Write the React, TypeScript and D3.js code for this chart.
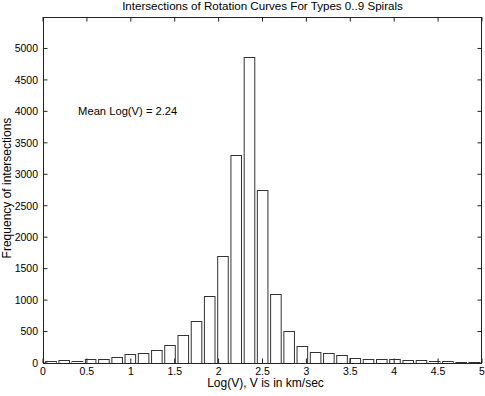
import React from "react";
import * as d3 from "d3";

const binCenters = [
  0.085, 0.236, 0.386, 0.537, 0.688, 0.839, 0.989, 1.14, 1.291, 1.441, 1.592,
  1.743, 1.893, 2.044, 2.195, 2.346, 2.496, 2.647, 2.798, 2.948, 3.099, 3.25,
  3.4, 3.551, 3.702, 3.853, 4.003, 4.154, 4.305, 4.455, 4.606, 4.757, 4.907,
];
const counts = [
  28, 48, 37, 69, 69, 96, 137, 160, 208, 292, 440, 665, 1062, 1705, 3300, 4870,
  2755, 1098, 515, 268, 180, 165, 122, 75, 64, 58, 59, 42, 42, 26, 26, 21, 10,
];
const xTicks = [0, 0.5, 1, 1.5, 2, 2.5, 3, 3.5, 4, 4.5, 5];
const yTicks = [0, 500, 1000, 1500, 2000, 2500, 3000, 3500, 4000, 4500, 5000];
const binWidth = 0.1507;
const barFrac = 0.8;

const title = "Intersections of Rotation Curves For Types 0..9 Spirals";
const xLabel = "Log(V), V is in km/sec";
const yLabel = "Frequency of intersections";
const note = "Mean Log(V) = 2.24";

export default function App() {
  const W = 485,
    H = 396;
  const L = 43,
    R = 482,
    T = 17,
    B = 363;
  const x = d3.scaleLinear().domain([0, 5]).range([L, R]);
  const y = d3.scaleLinear().domain([0, 5500]).range([B, T]);
  const tl = 4.5;
  const font = "'Liberation Sans', Arial, Helvetica, sans-serif";
  const axisColor = "#222";
  const bw = x(binWidth * barFrac) - x(0);

  return (
    <svg
      width={W}
      height={H}
      style={{ position: "absolute", left: 0, top: 0, background: "#fff" }}
      fontFamily={font}
    >
      <rect x={0} y={0} width={W} height={H} fill="#fff" />
      <defs>
        <clipPath id="plot">
          <rect x={L} y={T} width={R - L} height={B - T} />
        </clipPath>
      </defs>
      <g clipPath="url(#plot)">
        {counts.map((c, i) => (
          <rect
            key={i}
            x={x(binCenters[i]) - bw / 2 + 0.5}
            y={Math.round(y(c)) + 0.5}
            width={bw}
            height={Math.max(0, B - Math.round(y(c)))}
            fill="#fff"
            stroke="#333"
            strokeWidth={1}
          />
        ))}
      </g>
      <rect
        x={L + 0.5}
        y={T + 0.5}
        width={R - L - 1}
        height={B - T}
        fill="none"
        stroke={axisColor}
        strokeWidth={1}
      />
      {xTicks.map((t) => (
        <g key={"x" + t}>
          <line x1={x(t)} x2={x(t)} y1={B} y2={B - tl} stroke={axisColor} />
          <line x1={x(t)} x2={x(t)} y1={T} y2={T + tl} stroke={axisColor} />
          <text
            x={x(t)}
            y={375}
            fontSize={10.5}
            textAnchor="middle"
            fill="#000"
          >
            {t}
          </text>
        </g>
      ))}
      {yTicks.map((t) => (
        <g key={"y" + t}>
          <line x1={L} x2={L + tl} y1={y(t)} y2={y(t)} stroke={axisColor} />
          <line x1={R} x2={R - tl} y1={y(t)} y2={y(t)} stroke={axisColor} />
          <text
            x={L - 5}
            y={y(t) + 3.8}
            fontSize={10.5}
            textAnchor="end"
            fill="#000"
          >
            {t}
          </text>
        </g>
      ))}
      <text
        x={(L + R) / 2}
        y={10}
        fontSize={11.6}
        textAnchor="middle"
        fill="#000"
      >
        {title}
      </text>
      <text
        x={(L + R) / 2 + 3}
        y={387}
        fontSize={12}
        textAnchor="middle"
        fill="#000"
      >
        {xLabel}
      </text>
      <text
        transform={`translate(10.5,188) rotate(-90)`}
        fontSize={12}
        textAnchor="middle"
        fill="#000"
      >
        {yLabel}
      </text>
      <text x={x(0.4)} y={y(4000) + 4} fontSize={11.2} fill="#000">
        {note}
      </text>
    </svg>
  );
}
